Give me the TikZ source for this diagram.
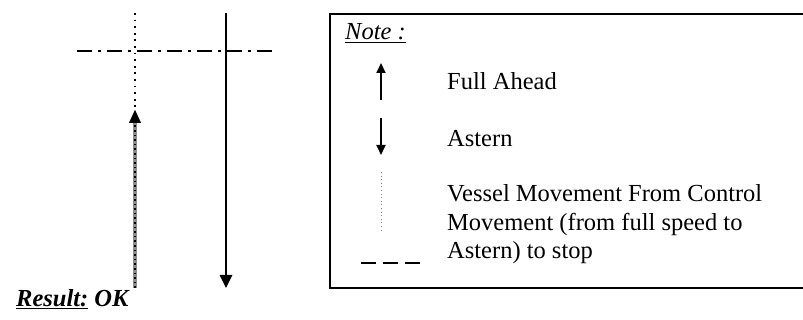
\documentclass[tikz,border=0pt]{standalone}
\usepackage{fontspec}
\setmainfont{Liberation Serif}
\usetikzlibrary{arrows.meta}
\begin{document}
\begin{tikzpicture}[x=1pt,y=-1pt,
  txt/.style={anchor=base west,inner sep=0pt,font=\fontsize{24.5}{28.5}\selectfont},
  tip/.style={-{Triangle[length=13,width=12]}},
  smalltip/.style={-{Triangle[length=10,width=9]}},
  solidline/.style={line width=2.6pt,black},
  fineDots/.style={line width=1.8pt,dash pattern=on 1.8pt off 4.8pt},
  thinDots/.style={line width=1pt,gray,dash pattern=on 1pt off 2.6pt},
  dashdot/.style={line width=2.4pt,dash pattern=on 15pt off 6pt on 3pt off 6pt},
  legdash/.style={line width=2.2pt,dash pattern=on 15pt off 7pt}]
\useasboundingbox (0,0) rectangle (803,320);
% left diagram
\coordinate (dTop) at (135,13);
\coordinate (dTip) at (135,110);
\coordinate (dBase) at (135,122);
\coordinate (dBot) at (135,288);
\coordinate (sTop) at (226,13);
\coordinate (sBot) at (226,288);
\coordinate (hL) at (77,51);
\coordinate (hR) at (273,51);
\draw[fineDots] (dTop) -- (dTip);
\draw[line width=4pt,black!45] (dBot) -- (dBase);
\draw[line width=1.6pt,black,dash pattern=on 1.6pt off 3pt] (dBot) -- (dBase);
\draw[tip,line width=0.1pt,black] (dBase) -- (dTip);
\draw[solidline,tip] (sTop) -- (sBot);
\draw[dashdot] (hL) -- (hR);
\node[txt] (res) at (16,306) {\textbf{\textit{\underline{Result:} OK}}};
% legend box
\coordinate (bTL) at (330,14);
\coordinate (bBR) at (815,288);
\draw[line width=2pt] (bTL) rectangle (bBR);
\node[txt] (note) at (345,40) {\underline{\textit{Note :}}};
\coordinate (uaB) at (381,100);
\coordinate (uaT) at (381,63);
\draw[line width=2pt,smalltip] (uaB) -- (uaT);
\node[txt] (full) at (447,90) {Full Ahead};
\coordinate (daT) at (381,118);
\coordinate (daB) at (381,155);
\draw[line width=2pt,smalltip] (daT) -- (daB);
\node[txt] (astern) at (447,147) {Astern};
\coordinate (ldT) at (381,172);
\coordinate (ldB) at (381,230);
\draw[thinDots] (ldT) -- (ldB);
\coordinate (lhL) at (361,263);
\coordinate (lhR) at (420,263);
\draw[legdash] (lhL) -- (lhR);
\node[txt] (vessel1) at (447,202) {Vessel Movement From Control};
\node[txt] (vessel2) at (447,231) {Movement (from full speed to};
\node[txt] (vessel3) at (447,259) {Astern) to stop};
\end{tikzpicture}
\end{document}
